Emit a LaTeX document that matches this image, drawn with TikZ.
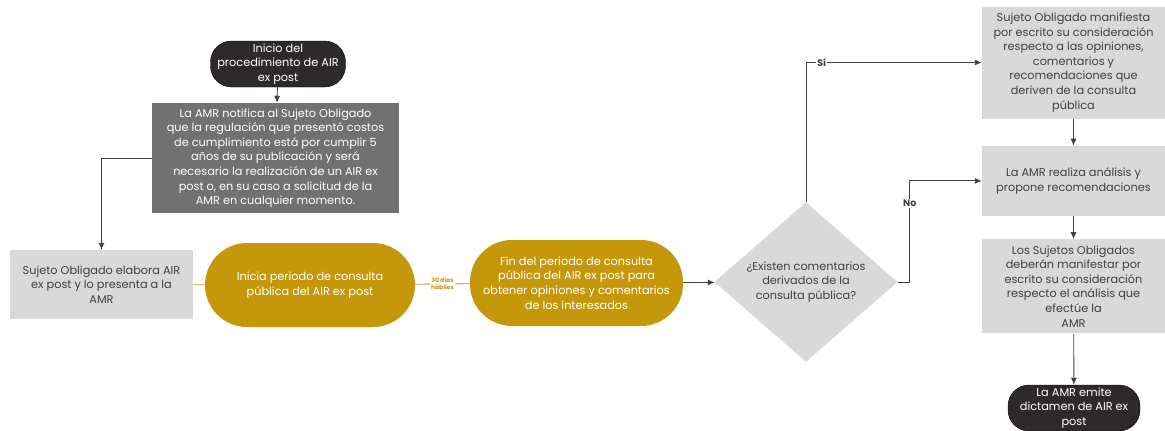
\documentclass[tikz,border=0pt]{standalone}
\usepackage{fontspec}
\setmainfont{Poppins}
\usepackage{tikz}
\usetikzlibrary{arrows.meta, positioning, shapes.geometric}
\definecolor{oro}{RGB}{196,152,10}
\definecolor{oscuro}{RGB}{46,42,43}
\definecolor{grismedio}{RGB}{113,113,113}
\definecolor{grisclaro}{RGB}{217,217,217}
\definecolor{textogris}{RGB}{64,64,64}
\definecolor{lineaoro}{RGB}{185,162,58}

\begin{document}
\begin{tikzpicture}[x=1pt, y=1pt, font=\fontsize{11.3}{14.6}\selectfont,
            term/.style = {draw=black, fill=oscuro, text=white, rounded corners=21pt, align=center, inner sep=1pt},
            caja/.style = {fill=grisclaro, text=textogris, align=center, inner sep=2pt},
            pill/.style = {fill=oro, text=white, align=center, rounded corners=42pt, inner sep=2pt},
            flecha/.style = {draw=black!75, line width=0.9pt, -{Latex[length=7pt, width=6pt]}},
            liga/.style = {draw=lineaoro, line width=0.8pt},
            etiqueta/.style = {fill=white, text=textogris, font=\fontsize{9.5}{10}\selectfont\bfseries, inner sep=1pt}]
            \useasboundingbox (0,0) rectangle (1165,-431);

            \node[term, minimum width=135, minimum height=46] (inicio) at (278,-64) {Inicio del\\procedimiento de AIR\\ex post};
            \node[caja, fill=grismedio, text=white, minimum width=247, minimum height=110] (notifica) at (275.5,-158) {La AMR notifica al Sujeto Obligado\\que la regulación que presentó costos\\de cumplimiento está por cumplir 5\\años de su publicación y será\\necesario la realización de un AIR ex\\post o, en su caso  a solicitud de la\\AMR en cualquier momento.};
            \node[caja, minimum width=183, minimum height=69] (elabora) at (101.5,-284.5) {Sujeto Obligado elabora AIR\\ex post y lo presenta a la\\AMR};
            \node[pill, minimum width=210, minimum height=84] (inicia) at (310,-285) {Inicia periodo de consulta\\pública del AIR ex post};
            \node[pill, minimum width=213, minimum height=86] (fin) at (576.5,-283) {Fin del periodo de consulta\\pública del AIR ex post para\\obtener opiniones y comentarios\\de los interesados};
            \node[diamond, fill=grisclaro, text=textogris, minimum width=183, minimum height=150, inner sep=0pt, align=center] (existen) at (806,-282) {¿Existen comentarios\\derivados de la\\consulta pública?};

            \node[caja, minimum width=183, minimum height=112] (manifiesta) at (1073.5,-62.5) {Sujeto Obligado manifiesta\\por escrito su consideración\\respecto a las opiniones,\\comentarios y\\recomendaciones que\\deriven de la consulta\\pública};
            \node[caja, minimum width=183, minimum height=70] (analisis) [below=27pt of manifiesta] {La AMR realiza análisis y\\propone recomendaciones};
            \node[caja, minimum width=183, minimum height=94] (sujetos) [below=23pt of analisis] {Los Sujetos Obligados\\deberán manifestar por\\escrito su consideración\\respecto el análisis que\\efectúe la\\AMR};
            \node[term, minimum width=132, minimum height=46] (emite) at (1074,-408) {La AMR emite\\dictamen de AIR ex\\post};

            \draw[flecha] (inicio) -- (notifica);
            \draw[flecha] (notifica.west |- 0,-158) -| (elabora.north);
            \draw[liga] (elabora) -- (inicia);
            \draw[liga] (inicia) -- node[fill=white, text=oro, font=\fontsize{6}{7}\selectfont\bfseries, align=center, inner sep=1pt] (dias) {30 días\\hábiles} (fin);
            \draw[flecha] (fin) -- (existen);
            \draw[flecha] (existen.north) |- node[etiqueta, pos=0.545] (si) {Sí} (manifiesta.west);
            \draw[flecha] (existen.east) -- ++(12,0) |- node[etiqueta, pos=0.39] (no) {No} (analisis.west);
            \draw[flecha] (manifiesta) -- (analisis);
            \draw[flecha] (analisis) -- (sujetos);
            \draw[flecha] (sujetos) -- (emite);
        \end{tikzpicture}
\end{document}
